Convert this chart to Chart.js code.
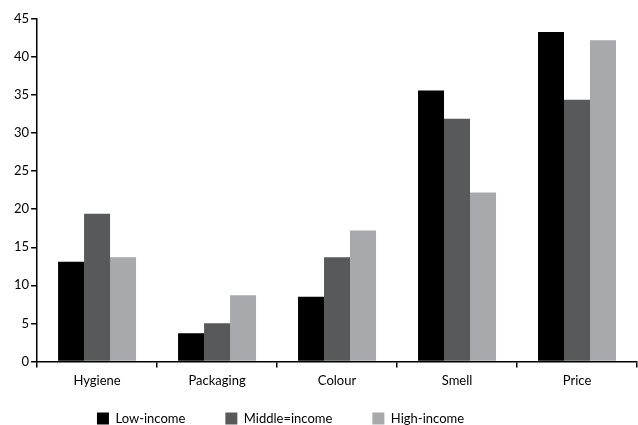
<!DOCTYPE html>
<html>
<head>
<meta charset="utf-8">
<script src="https://cdn.jsdelivr.net/npm/chart.js@4/dist/chart.umd.min.js"></script>
<style>
  html, body { margin: 0; padding: 0; background: #fff; }
  #wrap { width: 638px; height: 425px; }
</style>
</head>
<body>
<div id="wrap"><canvas id="chart"></canvas></div>
<script>
const categories = ['Hygiene', 'Packaging', 'Colour', 'Smell', 'Price'];
const lowIncome = [13.1, 3.7, 8.5, 35.6, 43.3];
const middleIncome = [19.4, 5.0, 13.7, 31.9, 34.4];
const highIncome = [13.7, 8.7, 17.2, 22.2, 42.2];
const yTicks = [0, 5, 10, 15, 20, 25, 30, 35, 40, 45];

// legend: wide gaps between items but a short box, sitting a bit left of centre
const legendTweak = {
    id: 'legendTweak',
    beforeLayout: function (chart) {
        const lg = chart.legend;
        if (lg && !lg._fitWrapped) {
            const fit = lg.fit;
            lg.fit = function () {
                fit.call(this);
                this.height = 28;
            };
            lg._fitWrapped = true;
        }
    },
    afterLayout: function (chart) {
        const lg = chart.legend;
        if (lg) {
            lg.left -= 44;
            lg.right -= 44;
            lg.top = 372;
            lg.bottom = 425;
        }
    }
};

const fontFamily = 'Lato, "Open Sans", sans-serif';

new Chart(document.getElementById('chart'), {
    type: 'bar',
    data: {
        labels: categories,
        datasets: [
            { label: 'Low-income', data: lowIncome, backgroundColor: '#000000' },
            { label: 'Middle=income', data: middleIncome, backgroundColor: '#58595b' },
            { label: 'High-income', data: highIncome, backgroundColor: '#a7a9ac' }
        ]
    },
    options: {
        responsive: true,
        maintainAspectRatio: false,
        animation: false,
        categoryPercentage: 0.65,
        barPercentage: 1.0,
        layout: { padding: { left: 12, right: 1, top: 19, bottom: 2 } },
        plugins: {
            tooltip: { enabled: false },
            legend: {
                position: 'bottom',
                labels: {
                    color: '#000',
                    boxWidth: 12,
                    boxHeight: 12,
                    padding: 40,
                    font: { family: fontFamily, size: 13 }
                }
            }
        },
        scales: {
            x: {
                grid: {
                    drawOnChartArea: false,
                    drawTicks: true,
                    tickLength: 6,
                    color: '#000',
                    lineWidth: 1.5
                },
                border: { color: '#000', width: 1.5 },
                ticks: {
                    color: '#000',
                    padding: 6,
                    font: { family: fontFamily, size: 13 }
                }
            },
            y: {
                min: 0,
                max: 45,
                afterBuildTicks: function (axis) {
                    axis.ticks = yTicks.map(function (v) { return { value: v }; });
                },
                grid: {
                    drawOnChartArea: false,
                    drawTicks: true,
                    tickLength: 6,
                    color: '#000',
                    lineWidth: 1.5
                },
                border: { color: '#000', width: 1.5 },
                ticks: {
                    color: '#000',
                    padding: 2,
                    font: { family: fontFamily, size: 13 }
                }
            }
        }
    },
    plugins: [legendTweak]
});
</script>
</body>
</html>
